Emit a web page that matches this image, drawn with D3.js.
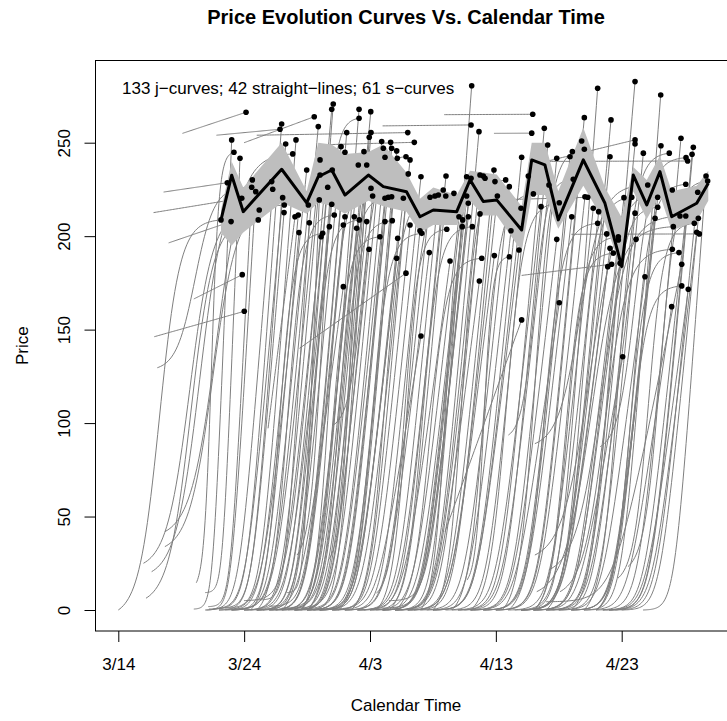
<!DOCTYPE html>
<html lang="en">
<head>
<meta charset="UTF-8">
<title>Price Evolution Curves</title>
<script src="https://d3js.org/d3.v7.min.js"></script>
<style>
  body { margin: 0; background: #fff; font-family: "Liberation Sans", Arial, sans-serif; }
  .axis text { font-size: 17px; fill: #000; font-family: "Liberation Sans", Arial, sans-serif; }
  .axis line { stroke: #000; }
  .curve { fill: none; stroke: #7f7f7f; stroke-width: 1; }
</style>
</head>
<body>
<div id="chart"></div>
<script>
// days counted from 3/14
const tickDays = [0, 10, 20, 30, 40];
const tickLabels = ["3/14", "3/24", "4/3", "4/13", "4/23"];
const priceTicks = [0, 50, 100, 150, 200, 250];

// mean price curve with its band
const meanDays  = [8.16, 9.01, 9.93, 12.98, 14.97, 15.89, 16.96, 18.01, 19.87, 21.06, 22.9, 23.97, 25.03, 26.89, 27.95, 29.0, 30.07, 32.05, 32.85, 33.9, 34.96, 36.95, 38.67, 40.0, 40.92, 41.99, 43.04, 43.97, 45.96, 46.88];
const meanPrice = [208.7, 232.6, 213.1, 235.8, 217.8, 231.8, 235.4, 222.0, 232.7, 226.5, 223.8, 210.4, 214.0, 213.1, 230.1, 218.5, 219.4, 203.3, 240.8, 238.1, 208.7, 240.8, 217.6, 183.7, 232.7, 216.7, 234.5, 210.4, 217.6, 228.3];
const bandLow   = [202, 195, 202, 218, 212, 218, 216, 212, 219, 216, 213, 202, 206, 206, 219, 211, 211, 192, 222, 222, 204, 227, 207, 182, 224, 209, 222, 203, 208, 219];
const bandHigh  = [214, 240, 226, 250, 224, 250, 249, 244, 245, 249, 234, 220, 226, 222, 235, 234, 233, 216, 250, 250, 224, 258, 226, 210, 237, 230, 243, 224, 227, 235];

// auctions: [end day, final price, start day, start price, shape]
const auctions = [
  [10.15, 266.3, 5.1, 255, "l"], [9.01, 251.5, 6.0, 0.5, "j"], [9.19, 244.9, 6.2, 14.6, "s"], [9.67, 241.7, 6.9, 9.3, "j"],
  [8.66, 228.6, 3.6, 223.6, "l"], [10.65, 230.1, 7.15, 1.8, "j"], [10.6, 226.2, 3.1, 129.6, "s"], [9.81, 220.3, 2.8, 212.6, "l"],
  [10.92, 223.8, 7.0, 0, "j"], [8.16, 208.7, 0.0, 0, "s"], [8.96, 207.8, 4.0, 196.4, "l"], [11.2, 214.0, 2.0, 25, "s"],
  [11.12, 208.7, 2.2, 6.3, "s"], [12.98, 260.0, 7.5, 0.5, "j"], [12.85, 257.2, 7.8, 254, "l"], [15.57, 263.9, 10.0, 250, "l"],
  [15.89, 258.6, 9.0, 0, "j"], [13.3, 249.3, 8.0, 0, "j"], [14.12, 251.5, 8.5, 1, "j"], [13.86, 244.0, 3.7, 41.9, "s"],
  [14.97, 235.4, 8.0, 0, "j"], [12.19, 229.2, 2.65, 20.5, "s"], [12.27, 225.1, 6.9, 0, "j"], [13.06, 220.6, 7.2, 0.5, "j"],
  [13.19, 216.7, 3.7, 33.9, "s"], [13.17, 212.6, 8.0, 1, "j"], [14.04, 210.4, 11.9, 97.2, "l"], [14.3, 211.3, 8.5, 0, "j"],
  [15.1, 216.7, 9.0, 0, "j"], [15.18, 207.2, 11.26, 5.4, "j"], [14.36, 201.9, 9.0, 0, "j"], [16.03, 240.8, 9.0, 0.5, "j"],
  [15.97, 219.4, 13.4, 9.3, "j"], [9.85, 179.4, 6.0, 166.4, "l"], [10.01, 159.8, 2.86, 146.2, "l"], [28.08, 280.5, 22.0, 0, "j"],
  [17.08, 270.7, 11.0, 0, "j"], [16.96, 267.9, 10.0, 5, "j"], [19.13, 267.9, 13.0, 0, "j"], [20.06, 266.6, 13.0, 0.5, "j"],
  [19.13, 263.1, 14.2, 29.4, "s"], [18.15, 255.4, 12.0, 0, "j"], [20.08, 255.4, 14.0, 0, "j"], [23.0, 255.4, 11.0, 254, "l"],
  [19.94, 252.9, 15.0, 0, "j"], [23.52, 250.2, 16.8, 249, "l"], [20.93, 250.6, 14.0, 1, "j"], [21.64, 250.2, 15.0, 0, "j"],
  [21.06, 247.0, 16.7, 26.8, "s"], [21.72, 247.0, 15.0, 0, "j"], [22.12, 245.6, 16.0, 0, "j"], [17.7, 247.9, 11.0, 0, "j"],
  [18.01, 244.9, 12.0, 2, "j"], [19.52, 245.2, 13.0, 0, "j"], [22.86, 242.5, 17.1, 99, "s"], [23.18, 240.8, 16.0, 0, "j"],
  [22.17, 241.7, 15.5, 0, "j"], [21.19, 242.2, 14.5, 0.5, "j"], [19.07, 238.1, 12.5, 0, "j"], [19.74, 238.1, 14.0, 0, "j"],
  [17.0, 235.4, 11.5, 0, "j"], [16.03, 232.7, 10.0, 0, "j"], [23.04, 233.3, 17.0, 0, "j"], [24.05, 231.8, 17.0, 0.5, "j"],
  [26.04, 232.2, 19.0, 0, "j"], [27.68, 231.8, 21.0, 0, "j"], [28.03, 231.0, 21.0, 1, "j"], [16.64, 226.2, 10.5, 0, "j"],
  [20.08, 225.6, 14.5, 0, "s"], [20.21, 221.5, 14.0, 0, "j"], [21.19, 220.3, 14.5, 0, "j"], [21.45, 220.8, 15.0, 0, "s"],
  [21.72, 221.1, 16.0, 0.5, "j"], [22.65, 220.3, 15.5, 0, "j"], [24.77, 220.8, 18.0, 0, "j"], [25.16, 221.5, 18.5, 0, "s"],
  [25.43, 222.0, 19.0, 0, "j"], [25.82, 224.7, 19.5, 0, "j"], [26.02, 221.5, 20.0, 0, "j"], [26.67, 222.9, 20.5, 0, "s"],
  [27.68, 221.5, 21.0, 0, "j"], [27.81, 217.6, 21.5, 5, "j"], [28.74, 232.7, 22.0, 0, "j"], [29.0, 232.2, 22.5, 0, "j"],
  [29.14, 231.0, 24.0, 0, "s"], [29.85, 235.4, 23.0, 0, "j"], [29.93, 229.2, 23.5, 0, "j"], [30.78, 230.1, 25.0, 0, "s"],
  [31.07, 226.5, 24.0, 0, "j"], [30.12, 221.5, 23.0, 0, "j"], [28.74, 211.9, 22.0, 0, "j"], [16.96, 217.1, 10.0, 0, "j"],
  [17.16, 211.3, 11.0, 0, "s"], [18.01, 210.4, 12.0, 0, "j"], [18.75, 210.4, 12.5, 0, "j"], [19.15, 208.7, 13.0, 0, "s"],
  [19.74, 207.8, 13.5, 0, "j"], [16.77, 205.1, 11.0, 0, "j"], [16.24, 201.5, 10.5, 0, "s"], [16.11, 199.7, 10.0, 0, "j"],
  [17.88, 206.0, 12.0, 0, "j"], [18.94, 204.2, 13.0, 1, "j"], [21.19, 207.8, 15.0, 0, "j"], [21.77, 208.3, 15.0, 0, "s"],
  [23.18, 206.0, 17.0, 0, "j"], [23.97, 202.9, 18.0, 0, "j"], [24.11, 201.5, 17.5, 0, "s"], [26.1, 203.7, 20.5, 8.9, "s"],
  [27.33, 205.1, 21.0, 0, "j"], [28.13, 205.1, 21.5, 0, "s"], [27.07, 210.4, 20.0, 0, "j"], [27.37, 208.7, 20.5, 0, "j"],
  [27.81, 210.4, 21.0, 0, "j"], [19.92, 193.0, 14.0, 0, "j"], [22.2, 198.9, 16.0, 0, "j"], [20.79, 199.7, 14.5, 0, "s"],
  [24.71, 191.2, 18.0, 0, "j"], [22.12, 188.2, 16.0, 0, "j"], [28.88, 188.2, 22.0, 0, "s"], [29.88, 189.6, 23.0, 0, "j"],
  [31.07, 189.0, 27.7, 16, "s"], [28.03, 259.5, 21.0, 259, "l"], [28.66, 255.9, 22.0, 0, "j"], [41.06, 282.7, 34.0, 0, "j"],
  [38.09, 279.1, 32.0, 0, "j"], [43.1, 275.5, 37.0, 0, "j"], [32.93, 265.2, 25.9, 265, "l"], [32.85, 255.1, 29.85, 255, "l"],
  [33.85, 257.7, 27.0, 0, "j"], [37.03, 263.4, 30.0, 0, "j"], [39.15, 262.2, 32.0, 0, "j"], [34.12, 248.8, 27.5, 0, "j"],
  [36.82, 250.9, 30.0, 0, "j"], [37.03, 246.5, 30.5, 0, "s"], [36.08, 245.2, 29.0, 0, "j"], [35.89, 242.5, 29.0, 0, "j"],
  [41.06, 251.5, 34.0, 240, "l"], [41.06, 249.3, 34.0, 0, "j"], [41.72, 244.4, 35.0, 0, "j"], [43.12, 248.4, 36.0, 0, "j"],
  [43.78, 244.4, 37.0, 0, "s"], [44.71, 252.4, 38.0, 0, "j"], [45.69, 247.6, 39.0, 0, "j"], [45.59, 243.8, 39.0, 0, "j"],
  [45.11, 242.0, 38.3, 87.4, "s"], [45.24, 240.2, 34.05, 240, "l"], [32.05, 242.2, 25.0, 0, "j"], [34.84, 241.7, 28.0, 0, "j"],
  [39.07, 242.5, 32.0, 0, "j"], [32.58, 232.2, 26.0, 0, "j"], [32.98, 222.6, 26.5, 0, "s"], [34.22, 227.4, 27.0, 0, "j"],
  [36.15, 230.4, 31.0, 93.6, "s"], [37.08, 221.1, 30.0, 0, "j"], [37.3, 220.8, 28.0, 219, "l"], [40.18, 220.6, 33.0, 0, "j"],
  [40.8, 220.8, 34.0, 0, "s"], [42.07, 227.4, 33.1, 89, "s"], [42.86, 220.8, 36.0, 0, "j"], [44.02, 224.7, 33.1, 29.4, "s"],
  [45.09, 227.8, 38.0, 0, "s"], [46.04, 223.5, 39.5, 0, "j"], [46.7, 232.2, 41.7, 0, "j"], [46.83, 229.5, 40.5, 23.2, "s"],
  [32.0, 214.9, 25.0, 0, "j"], [33.59, 215.8, 26.5, 0, "j"], [35.04, 217.9, 28.0, 0, "s"], [37.74, 214.9, 31.0, 0, "j"],
  [38.17, 213.1, 31.5, 0, "j"], [41.06, 212.3, 34.5, 0, "j"], [42.86, 215.5, 36.0, 0, "s"], [44.63, 210.8, 34.2, 21.4, "s"],
  [45.09, 210.8, 38.5, 0, "j"], [36.03, 210.4, 29.0, 0, "j"], [38.09, 206.9, 31.0, 0, "s"], [42.65, 209.6, 36.0, 0, "j"],
  [44.1, 205.1, 33.25, 9.8, "s"], [45.77, 206.9, 39.7, 17, "s"], [46.09, 209.6, 40.0, 0, "j"], [45.96, 202.1, 39.0, 0, "j"],
  [31.2, 202.9, 24.5, 0, "j"], [38.81, 201.2, 32.0, 0, "j"], [39.73, 199.7, 33.0, 0, "s"], [39.73, 198.0, 33.0, 0, "j"],
  [41.14, 198.3, 34.0, 0, "j"], [34.84, 198.3, 28.0, 0, "j"], [46.17, 201.2, 36.0, 201, "l"], [39.07, 193.5, 32.0, 0, "j"],
  [39.33, 190.9, 33.0, 0, "s"], [31.84, 192.6, 25.0, 0, "j"], [44.02, 193.0, 35.1, 9.8, "s"], [44.55, 191.2, 38.0, 0, "s"],
  [38.89, 183.7, 32.0, 0, "j"], [39.2, 185.0, 32.05, 179, "l"], [44.77, 185.0, 34.0, 4.4, "j"], [39.87, 185.5, 33.0, 0, "j"],
  [41.85, 178.3, 35.0, 0, "j"], [44.77, 173.4, 38.0, 0, "s"], [45.29, 171.6, 38.5, 0, "j"], [43.97, 162.3, 37.0, 0, "j"],
  [35.04, 164.4, 28.0, 0, "j"], [32.05, 155.2, 25.96, 41.9, "l"], [40.08, 135.5, 33.0, 0, "j"], [17.88, 173.0, 11.0, 0, "j"],
  [22.86, 180.2, 14.4, 140, "l"], [28.69, 176.0, 22.0, 0, "j"], [24.05, 146.6, 17.0, 0, "j"], [26.36, 186.7, 19.0, 0, "j"]
];

const W = 727, H = 721;
const svg = d3.select("#chart").append("svg")
  .attr("width", W).attr("height", H);

const x = d3.scaleLinear().domain([0, 40]).range([118.3, 621.7]);
const y = d3.scaleLinear().domain([0, 250]).range([610, 142.7]);

const box = { left: 95.5, top: 60.5, right: 740, bottom: 631 };

// shapes of the price paths (u = share of auction time elapsed)
const logistic = t => 1 / (1 + Math.exp(-10 * (t - 0.4)));
const softplus = t => Math.log(1 + Math.exp(12 * (t - 0.5)));
const shapes = {
  j: u => (softplus(u) - softplus(0)) / (softplus(1) - softplus(0)),
  s: u => (logistic(u) - logistic(0)) / (logistic(1) - logistic(0)),
  l: u => u
};
const steps = d3.range(0, 61).map(i => i / 60);

const plot = svg.append("g");
const line = d3.line().x(d => x(d[0])).y(d => y(d[1]));

plot.selectAll("path.curve")
  .data(auctions)
  .enter()
  .append("path")
  .attr("class", "curve")
  .attr("d", a => {
    const [t1, p1, t0, p0, s] = a;
    return line(steps.map(u => [t0 + (t1 - t0) * u, p0 + (p1 - p0) * shapes[s](u)]));
  });

// band around the mean
const band = meanDays.map((d, i) => ({ d, lo: bandLow[i], hi: bandHigh[i], m: meanPrice[i] }));
plot.append("path")
  .datum(band)
  .attr("fill", "#bebebe")
  .attr("d", d3.area().x(d => x(d.d)).y0(d => y(d.lo)).y1(d => y(d.hi)));

plot.selectAll("circle.final")
  .data(auctions)
  .enter()
  .append("circle")
  .attr("class", "final")
  .attr("cx", a => x(a[0]))
  .attr("cy", a => y(a[1]))
  .attr("r", 2.8)
  .attr("fill", "#000");

plot.append("path")
  .datum(band)
  .attr("fill", "none")
  .attr("stroke", "#000")
  .attr("stroke-width", 3)
  .attr("stroke-linejoin", "round")
  .attr("d", d3.line().x(d => x(d.d)).y(d => y(d.m)));

// box
svg.append("rect")
  .attr("x", box.left).attr("y", box.top)
  .attr("width", box.right - box.left).attr("height", box.bottom - box.top)
  .attr("fill", "none").attr("stroke", "#000").attr("stroke-width", 1);

// axes
svg.append("g")
  .attr("class", "axis")
  .attr("transform", `translate(0, ${box.bottom})`)
  .call(d3.axisBottom(x).tickValues(tickDays).tickFormat((d, i) => tickLabels[i]).tickSize(11).tickPadding(16))
  .call(g => g.select(".domain").remove());

svg.append("g")
  .attr("class", "axis")
  .attr("transform", `translate(${box.left}, 0)`)
  .call(d3.axisLeft(y).tickValues(priceTicks).tickSize(11))
  .call(g => g.select(".domain").remove())
  .call(g => g.selectAll("text")
    .attr("transform", "rotate(-90)")
    .attr("text-anchor", "middle")
    .attr("x", 0).attr("y", -25.5).attr("dy", 0));

// titles
svg.append("text")
  .attr("x", 406).attr("y", 24)
  .attr("text-anchor", "middle")
  .style("font-size", "20px").style("font-weight", "bold")
  .text("Price Evolution Curves Vs. Calendar Time");

svg.append("text")
  .attr("x", 406).attr("y", 711)
  .attr("text-anchor", "middle")
  .style("font-size", "17px")
  .text("Calendar Time");

svg.append("text")
  .attr("transform", "rotate(-90)")
  .attr("x", -(box.top + box.bottom) / 2).attr("y", 28)
  .attr("text-anchor", "middle")
  .style("font-size", "17px")
  .text("Price");

svg.append("text")
  .attr("x", 122).attr("y", 94)
  .style("font-size", "17px")
  .text("133 j\u2212curves; 42 straight\u2212lines; 61 s\u2212curves");
</script>
</body>
</html>
